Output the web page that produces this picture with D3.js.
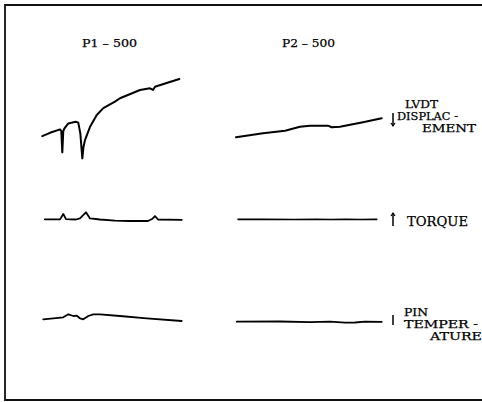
<!DOCTYPE html>
<html><head><meta charset="utf-8">
<script src="https://cdn.jsdelivr.net/npm/d3@7"></script>
<style>body{margin:0;background:#fff}svg{display:block}</style>
</head><body>
<svg id="c" width="482" height="402"></svg>
<script>
// ---- data (time 0..100, arbitrary signal units) ----
const panels = ["P1 – 500", "P2 – 500"];
const rowLabels = [["LVDT", "DISPLAC -", "EMENT"], ["TORQUE"], ["PIN", "TEMPER -", "ATURE"]];

const p1LvdtT = [0.2, 5.7, 12.9, 13.8, 14.5, 15.2, 15.9, 18.8, 24.1, 25.9, 27.4, 28.8, 29.6, 30.7, 34.3, 39.1, 43.8, 52.1, 55.7, 70, 77.1, 79.3, 80.7, 87.9, 98.1];
const p1LvdtV = [28, 32, 36, 34, 9, 34, 37, 43, 45, 44, 31, 2, 15, 23.5, 39, 53, 61, 68.6, 72.6, 82.4, 84.4, 82.4, 86.2, 90, 95.3];
const p2LvdtT = [0, 18.5, 33.6, 43.8, 50.7, 63, 65.5, 71.2, 87, 99.8];
const p2LvdtV = [26.7, 31.4, 34.5, 39.2, 40.4, 40.4, 38.5, 39.2, 44.4, 49.1];

const p1TorqueT = [2, 12.9, 15.2, 17.1, 24.3, 27.1, 31.4, 34.3, 41.4, 52.1, 62.9, 75.7, 78.6, 80.7, 82.9, 99.8];
const p1TorqueV = [3.1, 3.1, 6.7, 3.3, 3.0, 3.7, 7.8, 3.7, 3.0, 2.3, 2.0, 2.0, 3.3, 5.3, 3.0, 2.8];
const p2TorqueT = [1.4, 20, 40, 55, 65, 75, 85, 96.4];
const p2TorqueV = [3.1, 3.1, 3.0, 3.2, 3.0, 3.1, 3.0, 3.1];

const p1PinT = [0.9, 15.2, 18.8, 22.4, 24.8, 27.1, 29.5, 33.1, 36.6, 41.4, 55.7, 74.8, 99.8];
const p1PinV = [3.35, 4.35, 5.85, 5.0, 5.15, 3.85, 3.35, 5.0, 5.85, 5.85, 5.0, 3.85, 2.5];
const p2PinT = [0.5, 30, 50.7, 64.4, 74.7, 81.5, 88.4, 99.8];
const p2PinV = [2.15, 2.25, 1.9, 2.15, 1.65, 1.75, 2.2, 2.1];

// ---- drawing ----
const svg = d3.select("#c");
const FONT = "DejaVu Serif";

// frame (open on the right, as in the reference)
svg.append("path")
  .attr("d", "M490,5 L5,5 L5,400 L490,400")
  .attr("fill", "none").attr("stroke", "#111").attr("stroke-width", 1.8);

const xP = [d3.scaleLinear().domain([0, 100]).range([42, 182]),
            d3.scaleLinear().domain([0, 100]).range([236, 382])];
const yRows = [d3.scaleLinear().domain([0, 100]).range([160, 75]),
               d3.scaleLinear().domain([0, 10]).range([224, 209]),
               d3.scaleLinear().domain([0, 10]).range([326, 306])];

const traces = [
  [0, 0, p1LvdtT, p1LvdtV, 2], [1, 0, p2LvdtT, p2LvdtV, 2],
  [0, 1, p1TorqueT, p1TorqueV, 1.8], [1, 1, p2TorqueT, p2TorqueV, 1.6],
  [0, 2, p1PinT, p1PinV, 1.8], [1, 2, p2PinT, p2PinV, 1.8]
];
traces.forEach(([p, r, T, V, w]) => {
  const line = d3.line().x((d, i) => xP[p](T[i])).y((d, i) => yRows[r](V[i]));
  svg.append("path").datum(V).attr("d", line)
    .attr("fill", "none").attr("stroke", "#000").attr("stroke-width", w)
    .attr("stroke-linejoin", "round").attr("stroke-linecap", "round");
});

// panel titles
const titleX = [82, 282], titleW = [55, 53];
panels.forEach((t, i) => {
  svg.append("text").attr("x", titleX[i]).attr("y", 47)
    .attr("textLength", titleW[i]).attr("lengthAdjust", "spacingAndGlyphs")
    .attr("font-family", FONT).attr("font-size", 11.5)
    .attr("fill", "#000").attr("stroke", "#000").attr("stroke-width", 0.25).text(t);
});

// row labels: one text block per row, lines as tspans
const labelY = [[107.7, 120, 132.3], [226], [315.7, 328, 340.3]];
const labelX = [[405, 397, 422], [407], [404, 404, 430]];
const labelW = [[33, 61, 54], [61], [24, 74, 52]];
rowLabels.forEach((lines, r) => {
  lines.forEach((s, k) => {
    svg.append("text").attr("x", labelX[r][k]).attr("y", labelY[r][k])
      .attr("textLength", labelW[r][k]).attr("lengthAdjust", "spacingAndGlyphs")
      .attr("font-family", FONT).attr("font-size", r === 1 ? 12 : 10.5)
      .attr("fill", "#000").attr("stroke", "#000").attr("stroke-width", 0.25).text(s);
  });
});
const markers = [[113, 126, "down"], [213, 226, "up"], [315, 325, "none"]];
markers.forEach(([a, b, dir]) => {
  svg.append("line").attr("x1", 393).attr("x2", 393).attr("y1", a).attr("y2", b)
    .attr("stroke", "#000").attr("stroke-width", 1.5);
  if (dir === "down") {
    svg.append("path").attr("d", `M391,${b - 3} L393,${b} L395,${b - 3}`).attr("fill", "none").attr("stroke", "#000").attr("stroke-width", 1.2);
  } else if (dir === "up") {
    svg.append("path").attr("d", `M391,${a + 3} L393,${a} L395,${a + 3}`).attr("fill", "none").attr("stroke", "#000").attr("stroke-width", 1.2);
  }
});
</script>
</body></html>
